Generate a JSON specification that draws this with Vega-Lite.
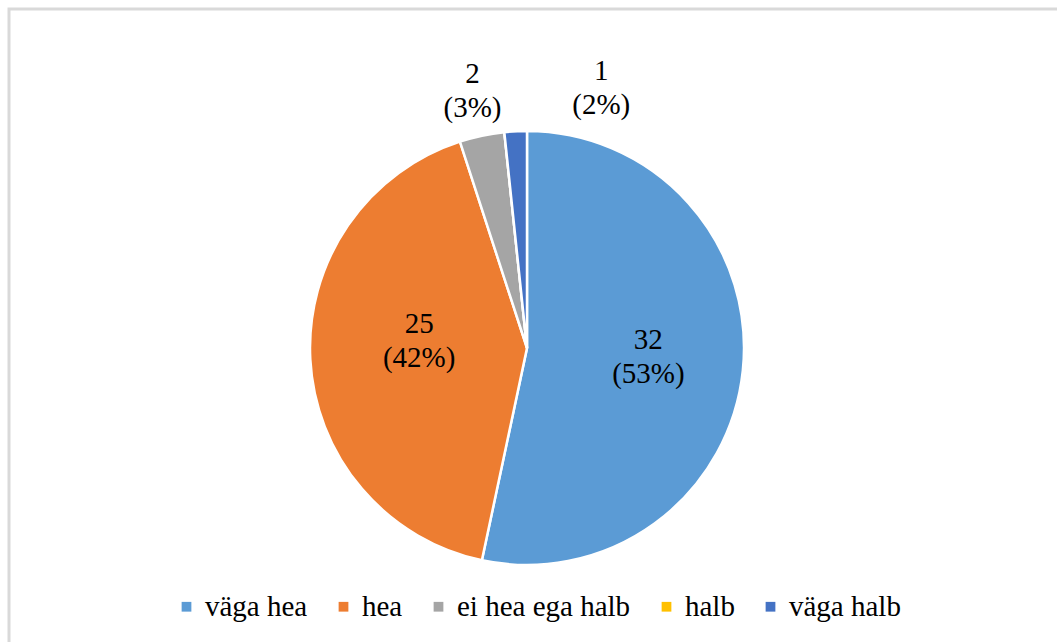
{
  "$schema": "https://vega.github.io/schema/vega-lite/v6.json",
  "width": 1036,
  "height": 678,
  "autosize": "none",
  "padding": {"left": 9, "top": 9, "right": 24, "bottom": 0},
  "background": "white",
  "config": {
    "view": {"stroke": null},
    "font": "Liberation Serif",
    "legend": {"labelFont": "Liberation Serif"}
  },
  "layer": [
    {
      "data": {"values": [{"frame": 1}]},
      "mark": {"type": "rect", "fill": "transparent", "stroke": "#d9d9d9", "strokeWidth": 3, "x2Offset": 40},
      "encoding": {
        "x": {"value": 0},
        "x2": {"value": "width"},
        "y": {"value": 0},
        "y2": {"value": "height"}
      }
    },
    {
      "data": {
        "values": [
          {"category": "väga hea", "count": 32, "rank": 1},
          {"category": "hea", "count": 25, "rank": 2},
          {"category": "ei hea ega halb", "count": 2, "rank": 3},
          {"category": "halb", "count": 0, "rank": 4},
          {"category": "väga halb", "count": 1, "rank": 5}
        ]
      },
      "transform": [
        {"joinaggregate": [{"op": "sum", "field": "count", "as": "total"}]},
        {"calculate": "datum.count + '\\n(' + format(datum.count / datum.total * 100, '.0f') + '%)'", "as": "label"},
        {"calculate": "datum.category == 'väga hea' ? datum.label : ''", "as": "blueLabel"},
        {"calculate": "datum.category == 'hea' ? datum.label : ''", "as": "orangeLabel"},
        {"calculate": "datum.category == 'ei hea ega halb' ? datum.label : ''", "as": "outsideLabel"},
        {"calculate": "datum.category == 'väga halb' ? datum.label : ''", "as": "shiftedLabel"}
      ],
      "encoding": {
        "theta": {"field": "count", "type": "quantitative", "stack": true},
        "order": {"field": "rank", "type": "quantitative", "sort": "ascending"}
      },
      "layer": [
        {
          "mark": {"type": "arc", "outerRadius": 217, "stroke": "white", "strokeWidth": 2.5},
          "encoding": {
            "color": {
              "field": "category",
              "type": "nominal",
              "scale": {
                "domain": ["väga hea", "hea", "ei hea ega halb", "halb", "väga halb"],
                "range": ["#5B9BD5", "#ED7D31", "#A5A5A5", "#FFC000", "#4472C4"]
              },
              "legend": {
                "title": null,
                "orient": "none",
                "direction": "horizontal",
                "legendX": 163,
                "legendY": 583,
                "symbolType": "square",
                "symbolSize": 95,
                "symbolStrokeWidth": 0,
                "symbolOpacity": 1,
                "labelFont": "Liberation Serif",
                "labelFontSize": 29,
                "labelColor": "#000000",
                "labelOffset": 4,
                "columnPadding": 21,
                "labelLimit": 400
              }
            }
          }
        },
        {
          "mark": {"type": "text", "radius": 115, "dx": 7, "dy": -20, "font": "Liberation Serif", "fontSize": 29, "lineBreak": "\n", "lineHeight": 34, "color": "#000000", "baseline": "middle", "align": "center"},
          "encoding": {"text": {"field": "blueLabel"}}
        },
        {
          "mark": {"type": "text", "radius": 115, "dx": 7, "dy": -30, "font": "Liberation Serif", "fontSize": 29, "lineBreak": "\n", "lineHeight": 34, "color": "#000000", "baseline": "middle", "align": "center"},
          "encoding": {"text": {"field": "orangeLabel"}}
        },
        {
          "mark": {"type": "text", "radius": 262, "dy": -18, "font": "Liberation Serif", "fontSize": 29, "lineBreak": "\n", "lineHeight": 34, "color": "#000000", "baseline": "middle", "align": "center"},
          "encoding": {"text": {"field": "outsideLabel"}}
        },
        {
          "mark": {"type": "text", "radius": 262, "dx": 88, "dy": -15, "font": "Liberation Serif", "fontSize": 29, "lineBreak": "\n", "lineHeight": 34, "color": "#000000", "baseline": "middle", "align": "center"},
          "encoding": {"text": {"field": "shiftedLabel"}}
        }
      ]
    }
  ]
}
